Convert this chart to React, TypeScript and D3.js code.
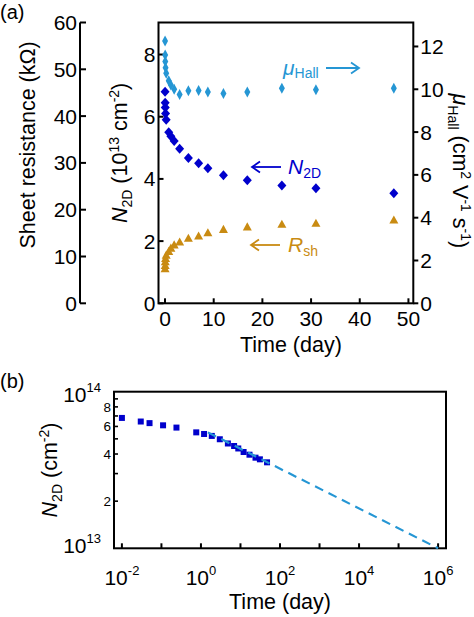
import React from 'react';
import * as d3 from 'd3';

// ---- data ----
const timeDays = [0.01, 0.03, 0.05, 0.11, 0.24, 0.76, 1.2, 1.88, 3.0, 4.8, 6.9, 8.8, 12.0, 16.9, 24.0, 31.0, 47.0];
const n2d = [6.8, 6.45, 6.3, 6.1, 5.9, 5.5, 5.37, 5.22, 4.97, 4.67, 4.5, 4.34, 4.12, 3.96, 3.79, 3.7, 3.54]; // 10^13 cm^-2
const muHall = [12.25, 11.6, 11.3, 11.0, 10.75, 10.4, 10.2, 10.0, 9.76, 9.93, 9.94, 9.87, 9.8, 9.87, 10.05, 9.98, 10.05];
const rSheet = [7.4, 8.1, 8.9, 9.6, 10.3, 11.1, 11.8, 12.5, 13.1, 13.9, 14.4, 15.1, 15.8, 16.35, 16.9, 17.1, 17.8]; // kOhm
const fitTime = [1.5, 1e6];
const fitN = [5.5, 1.0]; // 10^13 cm^-2

const xTicksA = [0, 10, 20, 30, 40, 50];
const nTicksA = [0, 2, 4, 6, 8];
const muTicksA = [0, 2, 4, 6, 8, 10, 12];
const rTicksA = [0, 10, 20, 30, 40, 50, 60];
const xDecadesB = [-2, -1, 0, 1, 2, 3, 4, 5, 6];
const xLabelDecadesB = [-2, 0, 2, 4, 6];
const yMinorB = [2, 3, 4, 5, 6, 7, 8, 9];
const yMinorLabelsB = [2, 4, 6, 8];

const FONT = "'Liberation Sans', Arial, Helvetica, sans-serif";
const C_MU = '#2596d4';
const C_N = '#0000cc';
const C_R = '#c98b12';

function diamond(x: number, y: number, w: number, h: number) {
  return `M${x},${y - h}L${x + w},${y}L${x},${y + h}L${x - w},${y}Z`;
}
function triangle(x: number, y: number, w: number, h: number) {
  return `M${x},${y - h}L${x + w},${y + h * 0.8}L${x - w},${y + h * 0.8}Z`;
}

function Arrow({ x1, x2, y, color, left }: { x1: number; x2: number; y: number; color: string; left?: boolean }) {
  const hx = left ? x1 : x2;
  const d = left ? 8 : -8;
  return (
    <g stroke={color} strokeWidth={1.8} fill="none">
      <line x1={x1} y1={y} x2={x2} y2={y} />
      <polyline points={`${hx + d},${y - 5.5} ${hx},${y} ${hx + d},${y + 5.5}`} />
    </g>
  );
}

export default function App() {
  // panel (a)
  const aL = 158.5, aR = 413.3, aT = 22.5, aB = 303.3;
  const xA = d3.scaleLinear().domain([-1.34, 51]).range([aL, aR]);
  const yN = d3.scaleLinear().domain([0, 9.03]).range([aB, aT]);
  const yMu = d3.scaleLinear().domain([0, 13.12]).range([aB, aT]);
  const yR = d3.scaleLinear().domain([0, 60]).range([aB, aT]);
  const rAxisX = 80;

  // panel (b)
  const bL = 114, bR = 446, bT = 391.7, bB = 548.3;
  const xB = d3.scaleLog().domain([Math.pow(10, -2.2), Math.pow(10, 6.2)]).range([bL, bR]);
  const yB = d3.scaleLog().domain([1e13, 1e14]).range([bB, bT]);
  const fitLine = d3
    .line<number>()
    .x((_, i) => xB(fitTime[i]))
    .y((d) => yB(d * 1e13));

  return (
    <svg width={474} height={617} style={{ position: 'absolute', left: 0, top: 0 }} fontFamily={FONT}>
      <rect width={474} height={617} fill="#fff" />

      {/* ================= Panel (a) ================= */}
      <text x={0} y={19} fontSize={20}>(a)</text>

      {/* separate sheet resistance axis */}
      <line x1={rAxisX} y1={yR(0)} x2={rAxisX} y2={yR(60)} stroke="#000" strokeWidth={2} />
      {rTicksA.map((t) => (
        <g key={'r' + t}>
          <line x1={rAxisX} x2={rAxisX + 6} y1={yR(t)} y2={yR(t)} stroke="#000" strokeWidth={2} />
          <text x={rAxisX - 3} y={yR(t) + 7.5} fontSize={21} textAnchor="end">{t}</text>
        </g>
      ))}
      <text transform={`translate(35,${(aT + aB) / 2 - 18}) rotate(-90)`} fontSize={21.5} textAnchor="middle">
        Sheet resistance (kΩ)
      </text>

      {/* box */}
      <rect x={aL} y={aT} width={aR - aL} height={aB - aT} fill="none" stroke="#000" strokeWidth={2} />

      {/* x ticks */}
      {xTicksA.map((t) => (
        <g key={'xa' + t}>
          <line x1={xA(t)} x2={xA(t)} y1={aB} y2={aB - 5} stroke="#000" strokeWidth={2} />
          <text x={xA(t)} y={aB + 23} fontSize={21} textAnchor="middle">{t}</text>
        </g>
      ))}
      <text x={(aL + aR) / 2 + 5} y={aB + 49} fontSize={21.5} textAnchor="middle">Time (day)</text>

      {/* left N2D ticks */}
      {nTicksA.map((t) => (
        <g key={'na' + t}>
          <line x1={aL} x2={aL + 5} y1={yN(t)} y2={yN(t)} stroke="#000" strokeWidth={2} />
          <text x={aL - 3} y={yN(t) + 7.5} fontSize={21} textAnchor="end">{t}</text>
        </g>
      ))}
      <text transform={`translate(127,${(aT + aB) / 2 - 10}) rotate(-90)`} fontSize={21.5} textAnchor="middle">
        <tspan fontStyle="italic">N</tspan>
        <tspan fontSize={14} dy={5}>2D</tspan>
        <tspan dy={-5}> (10</tspan>
        <tspan fontSize={14} dy={-8}>13</tspan>
        <tspan dy={8}> cm</tspan>
        <tspan fontSize={14} dy={-8}>-2</tspan>
        <tspan dy={8}>)</tspan>
      </text>

      {/* right mu ticks */}
      {muTicksA.map((t) => (
        <g key={'ma' + t}>
          <line x1={aR} x2={aR + 5} y1={yMu(t)} y2={yMu(t)} stroke="#000" strokeWidth={2} />
          <text x={aR + 7} y={yMu(t) + 7.5} fontSize={21} textAnchor="start">{t}</text>
        </g>
      ))}
      <text transform={`translate(453,${(aT + aB) / 2 + 8}) rotate(90)`} fontSize={21.5} textAnchor="middle">
        <tspan fontStyle="italic">μ</tspan>
        <tspan fontSize={14} dy={5}>Hall</tspan>
        <tspan dy={-5}> (cm</tspan>
        <tspan fontSize={14} dy={-8}>2</tspan>
        <tspan dy={8}> V</tspan>
        <tspan fontSize={14} dy={-8}>-1</tspan>
        <tspan dy={8}> s</tspan>
        <tspan fontSize={14} dy={-8}>-1</tspan>
        <tspan dy={8}>)</tspan>
      </text>

      {/* data: Rsh triangles */}
      {timeDays.map((t, i) => (
        <path key={'rt' + i} d={triangle(xA(t), yR(rSheet[i]), 4.5, 4.5)} fill={C_R} />
      ))}
      {/* data: N2D diamonds */}
      {timeDays.map((t, i) => (
        <path key={'nd' + i} d={diamond(xA(t), yN(n2d[i]), 4.5, 5)} fill={C_N} />
      ))}
      {/* data: mu diamonds */}
      {timeDays.map((t, i) => (
        <path key={'md' + i} d={diamond(xA(t), yMu(muHall[i]), 3, 5.5)} fill={C_MU} />
      ))}

      {/* annotations */}
      <text x={283} y={75} fontSize={21} fill={C_MU}>
        <tspan fontStyle="italic">μ</tspan>
        <tspan fontSize={14} dy={3}>Hall</tspan>
      </text>
      <Arrow x1={326} x2={359} y={68} color={C_MU} />

      <Arrow x1={252} x2={281} y={167} color={C_N} left />
      <text x={288} y={174} fontSize={21} fill={C_N}>
        <tspan fontStyle="italic">N</tspan>
        <tspan fontSize={14} dy={4}>2D</tspan>
      </text>

      <Arrow x1={251} x2={280} y={245} color={C_R} left />
      <text x={288} y={252} fontSize={21} fill={C_R}>
        <tspan fontStyle="italic">R</tspan>
        <tspan fontSize={14} dy={4}>sh</tspan>
      </text>

      {/* ================= Panel (b) ================= */}
      <text x={0} y={388} fontSize={20}>(b)</text>
      <rect x={bL} y={bT} width={bR - bL} height={bB - bT} fill="none" stroke="#000" strokeWidth={2} />

      {xDecadesB.map((e) => (
        <line key={'xb' + e} x1={xB(Math.pow(10, e))} x2={xB(Math.pow(10, e))} y1={bB} y2={bB - 5} stroke="#000" strokeWidth={2} />
      ))}
      {xLabelDecadesB.map((e) => (
        <text key={'xbl' + e} x={xB(Math.pow(10, e))} y={bB + 37} fontSize={21} textAnchor="middle">
          10<tspan fontSize={13} dy={-10}>{e}</tspan>
        </text>
      ))}
      <text x={280} y={609} fontSize={21.5} textAnchor="middle">Time (day)</text>

      {yMinorB.map((m) => (
        <line key={'yb' + m} x1={bL} x2={bL + 4} y1={yB(m * 1e13)} y2={yB(m * 1e13)} stroke="#000" strokeWidth={1.6} />
      ))}
      {yMinorLabelsB.map((m) => (
        <text key={'ybl' + m} x={bL - 3} y={yB(m * 1e13) + 5} fontSize={13.5} textAnchor="end">{m}</text>
      ))}
      <text x={101} y={402} fontSize={21} textAnchor="end">
        10<tspan fontSize={13} dy={-10}>14</tspan>
      </text>
      <text x={101} y={553} fontSize={21} textAnchor="end">
        10<tspan fontSize={13} dy={-10}>13</tspan>
      </text>
      <text transform={`translate(57,${(bT + bB) / 2}) rotate(-90)`} fontSize={21.5} textAnchor="middle">
        <tspan fontStyle="italic">N</tspan>
        <tspan fontSize={14} dy={5}>2D</tspan>
        <tspan dy={-5}> (cm</tspan>
        <tspan fontSize={14} dy={-8}>-2</tspan>
        <tspan dy={8}>)</tspan>
      </text>

      {/* data squares */}
      {timeDays.map((t, i) => (
        <rect key={'sq' + i} x={xB(t) - 3} y={yB(n2d[i] * 1e13) - 3} width={6} height={6} fill={C_N} />
      ))}
      {/* fit line */}
      <path d={fitLine(fitN) || ''} fill="none" stroke={C_MU} strokeWidth={2.2} strokeDasharray="9,6" />
    </svg>
  );
}
